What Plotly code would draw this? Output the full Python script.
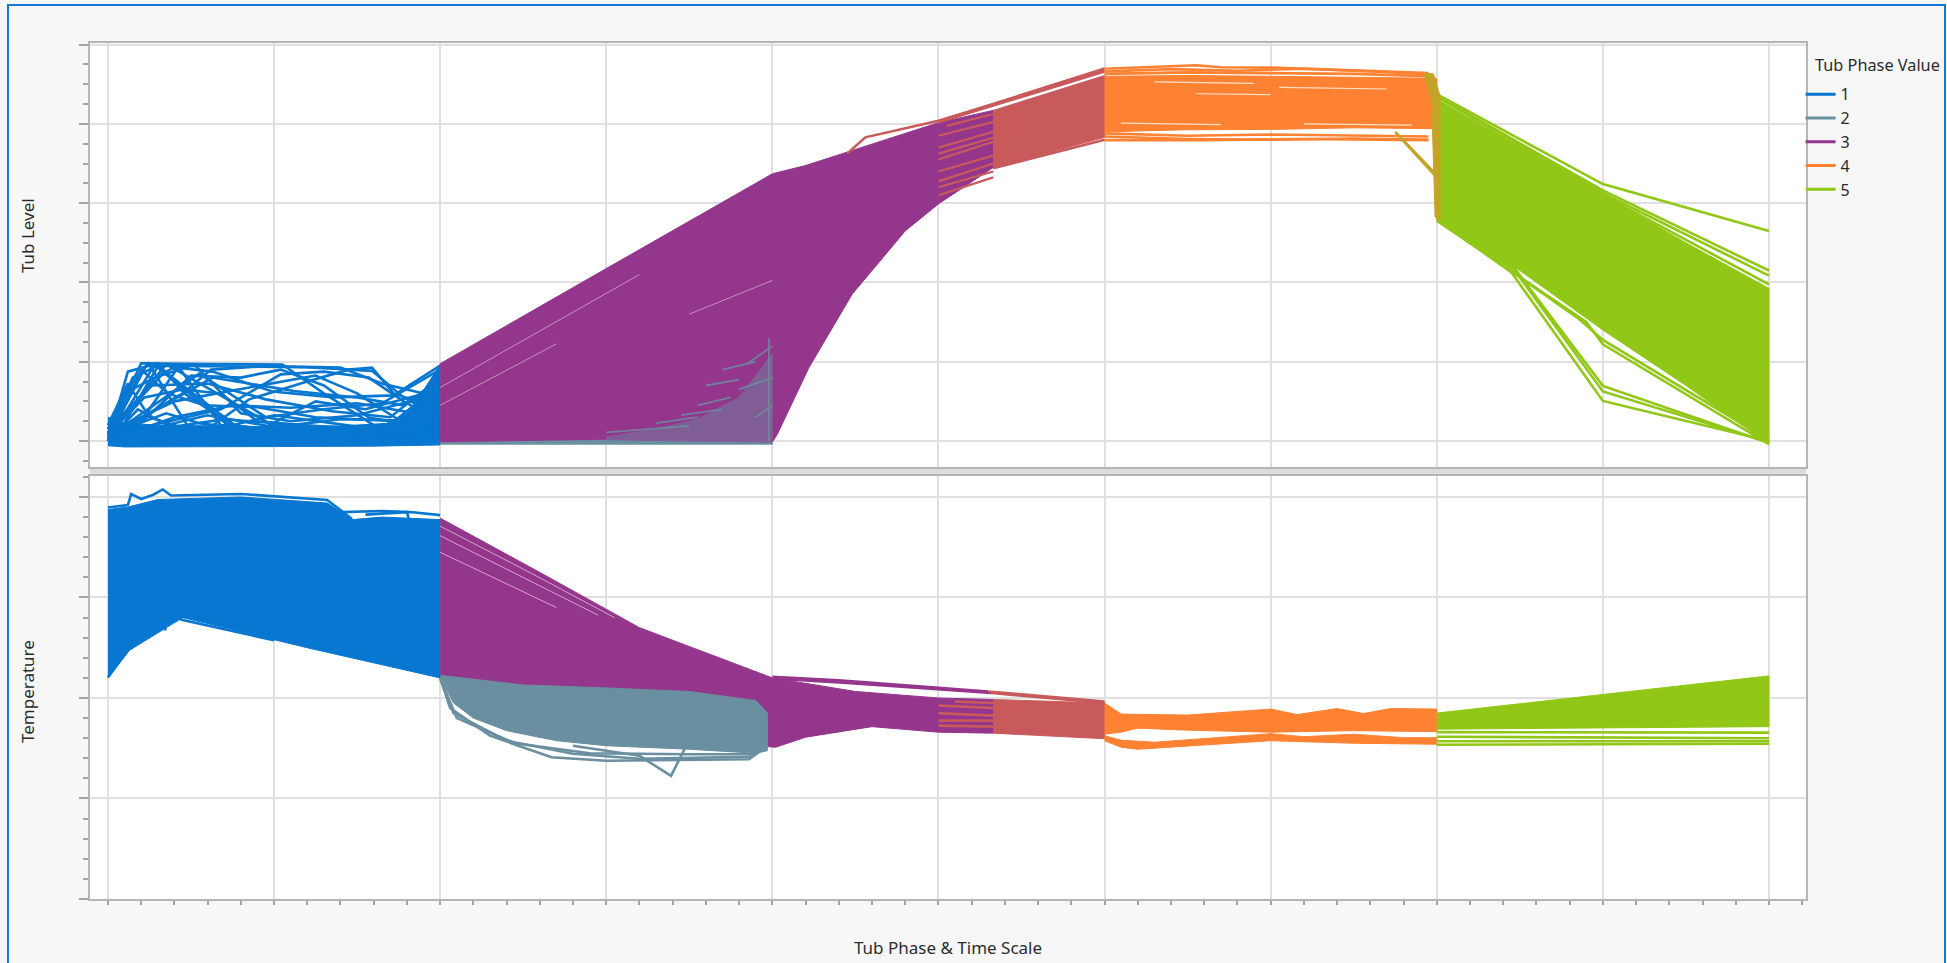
import plotly.graph_objects as go
from plotly.subplots import make_subplots

# ---------------------------------------------------------------------------
# Phase legend
# ---------------------------------------------------------------------------
LEGEND_TITLE = "Tub Phase Value"
PHASE_NAMES = ["1", "2", "3", "4", "5"]
PHASE_COLORS = ["#0777d1", "#6a8fa0", "#94378c", "#fe8232", "#91c716"]
COLOR_3_TO_4 = "#c85a5c"   # cycles overlapping between phase 3 and phase 4
COLOR_4_TO_5 = "#c4a426"   # hand-over from phase 4 to phase 5

X_RANGE = [-0.108, 10.223]
LEVEL_RANGE = [-6.56, 100.4]
TEMP_RANGE = [0, 84.18]

# ---------------------------------------------------------------------------
# Tub level – dense envelopes (outline x / y) and individual cycles
# ---------------------------------------------------------------------------
LEVEL_P1_BAND_X = [0.00, 0.03, 0.10, 0.30, 0.60, 1.00, 1.40, 1.70, 1.85, 2.00, 2.00, 1.60, 1.00, 0.50, 0.10, 0.00]
LEVEL_P1_BAND_Y = [6.0, 5.5, 4.5, 4.0, 3.8, 3.6, 3.8, 4.5, 9.5, 19.3, -1.0, -1.3, -1.4, -1.4, -1.5, -1.2]

LEVEL_P1_LINES = [
    [(0.00, 1.5), (0.20, 19.6), (0.60, 19.4), (1.05, 19.3), (1.30, 12.0), (1.60, 4.0), (2.00, 2.0)],
    [(0.00, 0.5), (0.24, 19.8), (0.50, 2.5), (1.00, 1.5), (2.00, 1.0)],
    [(0.00, 2.0), (0.15, 16.0), (0.30, 19.0), (0.70, 18.8), (1.20, 18.6), (1.59, 17.7), (1.78, 11.0), (2.00, 6.0)],
    [(0.00, 0.0), (0.28, 19.2), (0.55, 10.0), (0.75, 3.0), (1.40, 2.0), (2.00, 0.5)],
    [(0.00, 3.0), (0.10, 12.0), (0.42, 19.0), (0.68, 4.0), (1.20, 2.5), (2.00, 3.0)],
    [(0.00, 1.0), (0.35, 19.4), (0.99, 4.0), (1.36, 2.0), (2.00, 1.5)],
    [(0.00, 0.5), (0.16, 2.5), (0.42, 18.5), (0.63, 17.5), (0.99, 12.5), (1.36, 11.0), (1.72, 11.5), (2.00, 19.0)],
    [(0.00, 2.5), (0.05, 1.5), (0.29, 8.0), (0.63, 16.0), (1.12, 12.6), (1.51, 10.9), (1.78, 9.0), (2.00, 14.0)],
    [(0.00, 0.0), (0.21, 5.0), (0.50, 16.5), (0.80, 16.0), (1.04, 18.0), (1.30, 14.0), (1.57, 5.9), (2.00, 3.0)],
    [(0.00, 1.0), (0.29, 4.2), (0.68, 8.0), (1.04, 16.8), (1.30, 17.5), (1.57, 16.0), (1.78, 10.0), (2.00, 5.0)],
    [(0.00, 4.0), (0.12, 14.5), (0.25, 6.0), (0.55, 2.0), (1.00, 1.0), (2.00, 0.0)],
    [(0.00, 0.0), (0.40, 6.0), (0.75, 9.0), (1.10, 8.4), (1.50, 9.5), (1.85, 7.0), (2.00, 17.0)],
    [(0.00, 1.5), (0.22, 11.0), (0.45, 13.0), (0.68, 12.0), (0.90, 5.0), (1.30, 3.5), (2.00, 2.0)],
    [(0.00, 0.5), (0.55, 1.5), (0.85, 10.5), (1.20, 15.0), (1.45, 18.0), (1.59, 18.5), (1.72, 12.0), (2.00, 8.0)],
    [(0.00, 2.0), (0.32, 16.5), (0.52, 19.3), (0.80, 7.0), (1.10, 5.0), (1.50, 6.5), (2.00, 12.0)],
    [(0.00, 0.0), (0.18, 8.0), (0.38, 3.5), (0.70, 5.5), (1.15, 4.0), (1.60, 3.0), (2.00, 9.5)],
    [(0.00, 3.0), (0.26, 14.0), (0.60, 14.5), (0.95, 10.5), (1.35, 7.5), (1.70, 6.0), (2.00, 16.0)],
    [(0.00, 1.0), (0.45, 12.0), (0.62, 18.0), (0.95, 18.9), (1.40, 18.5), (1.65, 14.5), (2.00, 11.0)],
    [(0.00, 0.5), (0.20, 18.0), (0.36, 12.0), (0.58, 9.0), (0.90, 8.5), (1.25, 6.0), (1.75, 5.0), (2.00, 7.0)],
    [(0.00, 2.0), (0.65, 3.0), (1.00, 6.5), (1.36, 4.5), (1.70, 2.5), (2.00, 4.0)],
    [(0.00, 0.0), (0.12, 17.5), (0.30, 19.6), (0.46, 12.0), (0.75, 4.0), (1.10, 2.0), (2.00, 1.0)],
    [(0.05, 1.0), (0.30, 18.8), (0.80, 2.8), (1.30, 1.2), (2.00, 1.5)],
    [(0.00, 1.0), (0.55, 17.0), (0.95, 6.0), (1.30, 8.0), (1.65, 9.5), (2.00, 18.0)],
    [(0.00, 2.0), (0.40, 10.0), (0.85, 13.5), (1.25, 16.5), (1.50, 12.0), (1.80, 4.0), (2.00, 2.5)],
    [(0.00, 0.5), (0.25, 3.0), (0.60, 6.5), (1.00, 3.5), (1.40, 5.5), (2.00, 5.0)],
    [(0.00, 1.5), (0.35, 7.0), (0.55, 4.5), (0.90, 2.5), (1.25, 10.0), (1.55, 8.0), (2.00, 13.0)],
]

LEVEL_P3_BAND_X = [2.00, 2.00, 3.00, 4.00, 4.20, 4.50, 5.00, 5.33, 5.33, 5.00, 4.80, 4.48, 4.22, 4.03, 4.00, 3.00]
LEVEL_P3_BAND_Y = [-0.3, 19.5, 43.5, 67.4, 69.5, 73.5, 80.3, 83.4, 69.0, 59.8, 53.0, 37.0, 18.5, 1.7, -0.3, 0.3]
# thin gaps between neighbouring phase-3 cycles
LEVEL_P3_GAPS = [
    [(2.00, 13.5), (3.20, 42.0)],
    [(2.00, 9.0), (2.70, 24.5)],
    [(3.50, 32.0), (4.00, 40.5)],
]

LEVEL_P2_STRIP_X = [2.00, 4.00, 4.00, 2.00]
LEVEL_P2_STRIP_Y = [0.5, 0.5, -0.8, -0.8]
LEVEL_P2_BAND_X = [3.00, 3.30, 3.55, 3.80, 4.00, 4.00, 3.00]
LEVEL_P2_BAND_Y = [1.0, 3.0, 5.5, 11.0, 22.0, -0.5, -0.5]
LEVEL_P2_LINES = [
    [(3.00, 2.2), (3.50, 3.8)],
    [(3.30, 4.5), (3.55, 6.0)],
    [(3.45, 6.5), (3.70, 8.0)],
    [(3.55, 9.0), (3.75, 11.0)],
    [(3.60, 14.0), (3.80, 15.5)],
    [(3.70, 18.0), (3.90, 20.0)],
    [(3.80, 13.0), (4.00, 16.0)],
    [(3.85, 19.5), (4.00, 24.0)],
    [(3.90, 6.0), (4.00, 9.0)],
    [(3.98, 0.0), (3.98, 26.0)],
]

LEVEL_P34_STRIPES = [
    [(5.00, 62.0), (5.33, 66.5)],
    [(5.00, 64.0), (5.33, 68.0)],
    [(5.00, 65.5), (5.33, 70.0)],
    [(5.00, 68.0), (5.33, 72.0)],
    [(5.00, 71.0), (5.33, 75.5)],
    [(5.00, 72.5), (5.33, 76.5)],
    [(5.00, 74.0), (5.33, 78.0)],
    [(5.00, 77.0), (5.33, 80.5)],
    [(5.05, 79.5), (5.33, 82.5)],
]
LEVEL_P34_BAND_X = [5.33, 6.00, 6.00, 5.33]
LEVEL_P34_BAND_Y = [83.4, 92.2, 76.6, 69.0]
LEVEL_P34_LINES = [
    [(5.00, 80.6), (6.00, 94.0)],
    [(5.00, 80.4), (6.00, 93.2)],
    [(4.45, 72.5), (4.56, 76.6), (5.00, 80.8), (6.00, 93.5)],
    [(5.33, 69.0), (6.00, 77.2)],
    [(5.33, 68.8), (6.00, 76.0)],
]

LEVEL_P4_BAND_X = [6.00, 6.50, 7.00, 7.50, 8.00, 8.00, 7.50, 7.00, 6.50, 6.00]
LEVEL_P4_BAND_Y = [92.0, 92.2, 92.0, 91.8, 91.5, 78.8, 79.0, 78.6, 78.5, 78.0]
LEVEL_P4_LINES = [
    [(6.00, 93.9), (6.30, 94.3), (6.55, 94.8), (6.70, 94.3), (7.00, 94.2), (7.50, 93.5), (7.95, 92.8)],
    [(6.00, 93.2), (6.40, 93.8), (6.80, 93.4), (7.20, 93.9), (7.60, 93.2), (7.95, 92.5)],
    [(6.00, 92.6), (6.50, 93.0), (7.00, 92.8), (7.50, 92.6), (7.95, 92.0)],
    [(6.00, 77.6), (6.50, 77.0), (7.00, 77.3), (7.50, 77.0), (7.95, 76.8)],
    [(6.00, 76.8), (6.50, 76.2), (7.00, 76.0), (7.50, 76.3), (7.95, 76.0)],
    [(6.00, 75.9), (6.60, 75.9), (7.20, 76.2), (7.95, 75.9)],
]
# thin gaps between neighbouring phase-4 cycles
LEVEL_P4_GAPS = [
    [(6.30, 90.6), (6.90, 90.2)],
    [(7.05, 89.2), (7.70, 88.8)],
    [(6.55, 87.6), (7.00, 87.4)],
    [(6.10, 80.2), (6.70, 79.8)],
    [(7.20, 80.0), (7.85, 79.7)],
]

LEVEL_P45_BAND_X = [7.92, 7.98, 8.02, 8.02, 7.99, 7.97]
LEVEL_P45_BAND_Y = [92.8, 92.6, 87.0, 55.5, 56.5, 85.0]
LEVEL_P45_LINES = [
    [(7.76, 77.5), (8.00, 66.5)],
    [(7.75, 78.0), (7.99, 67.5)],
]

LEVEL_P5_BAND_X = [8.00, 8.50, 9.00, 9.50, 10.00, 10.00, 9.50, 9.00, 8.45, 8.00]
LEVEL_P5_BAND_Y = [86.0, 74.0, 62.0, 50.0, 38.5, -0.8, 14.0, 28.0, 44.5, 56.0]
LEVEL_P5_LINES = [
    [(8.00, 87.5), (9.00, 64.8), (10.00, 53.0)],
    [(8.00, 87.0), (9.00, 63.2), (10.00, 43.0)],
    [(8.00, 86.8), (9.00, 62.5), (10.00, 41.7)],
    [(8.00, 86.0), (9.00, 62.0), (10.00, 39.5)],
    [(8.00, 57.0), (8.47, 43.5), (9.00, 13.9), (10.00, -0.5)],
    [(8.00, 56.5), (8.47, 43.0), (9.00, 12.5), (10.00, -0.3)],
    [(8.00, 56.0), (8.45, 42.5), (9.00, 10.1), (10.00, 0.0)],
    [(8.00, 55.6), (8.90, 30.0), (9.00, 24.4), (10.00, -0.8)],
    [(8.00, 56.0), (8.85, 31.0), (9.00, 25.5), (10.00, 0.2)],
]

# ---------------------------------------------------------------------------
# Temperature – dense envelopes and individual cycles
# ---------------------------------------------------------------------------
TEMP_P1_BAND_X = [0.00, 0.12, 0.30, 0.80, 1.32, 1.47, 1.65, 1.82, 2.00, 2.00, 1.20, 0.45, 0.13, 0.00]
TEMP_P1_BAND_Y = [77.5, 78.0, 79.5, 80.0, 78.8, 75.5, 76.0, 75.8, 75.5, 44.0, 50.0, 56.0, 49.5, 44.1]
TEMP_P1_LINES = [
    [(0.00, 77.9), (0.12, 78.4), (0.14, 80.6), (0.20, 79.6), (0.27, 80.4), (0.33, 81.5), (0.38, 80.3),
     (0.80, 80.6), (1.32, 79.4), (1.47, 75.6)],
    [(1.40, 77.0), (1.65, 77.2), (1.82, 77.0), (2.00, 76.4)],
    [(1.55, 76.5), (1.80, 77.0), (1.86, 70.0), (2.00, 69.5)],
    [(0.00, 44.1), (0.12, 49.5), (0.30, 55.0), (0.50, 56.5), (2.00, 44.5)],
    [(0.02, 47.0), (0.15, 53.0), (0.28, 57.5), (0.45, 55.5), (1.00, 51.5)],
    [(0.05, 50.0), (0.20, 54.5), (0.30, 56.0), (0.35, 53.5)],
]

TEMP_P3_BAND_X = [2.00, 2.60, 3.20, 4.00, 4.50, 5.00, 5.33, 5.33, 5.00, 4.60, 4.20, 4.02, 3.90, 3.00, 2.00]
TEMP_P3_BAND_Y = [75.8, 65.0, 54.0, 44.0, 41.3, 40.0, 39.7, 33.0, 33.2, 34.3, 32.2, 30.2, 30.5, 40.0, 44.0]
TEMP_P3_LINES = [
    [(4.00, 44.2), (4.40, 43.5), (5.30, 41.3)],
    [(4.00, 43.9), (4.45, 43.0), (5.32, 41.0)],
]
TEMP_P3_GAPS = [
    [(2.00, 74.2), (2.55, 64.8), (3.05, 56.0)],
    [(2.00, 72.3), (2.50, 64.0), (2.95, 56.5)],
    [(2.00, 69.0), (2.70, 58.0)],
]

TEMP_P2_BAND_X = [2.00, 2.50, 3.00, 3.50, 3.90, 3.97, 3.97, 3.90, 3.50, 3.00, 2.70, 2.40, 2.20, 2.08, 2.02]
TEMP_P2_BAND_Y = [44.5, 42.6, 42.0, 41.3, 39.5, 37.0, 29.5, 29.0, 29.8, 30.5, 31.5, 33.5, 36.0, 39.0, 43.0]
TEMP_P2_LINES = [
    [(2.00, 44.0), (2.08, 37.0), (2.40, 31.5), (2.80, 28.9), (3.20, 27.9), (3.86, 28.3), (3.96, 32.0)],
    [(2.00, 44.0), (2.06, 38.0), (2.30, 32.5), (2.67, 28.2), (3.00, 27.5), (3.86, 27.8), (3.95, 30.0)],
    [(2.00, 44.0), (2.10, 36.0), (2.45, 31.0), (2.90, 29.0), (3.50, 28.8), (3.90, 28.8)],
    [(2.80, 30.5), (3.20, 28.5), (3.39, 24.5), (3.52, 33.0), (3.70, 35.0)],
]

TEMP_P34_STRIPES = [
    [(5.10, 39.3), (5.33, 39.0)],
    [(5.00, 38.5), (5.33, 38.0)],
    [(5.00, 37.0), (5.33, 36.5)],
    [(5.00, 35.5), (5.33, 35.5)],
    [(5.00, 34.5), (5.33, 34.3)],
]
TEMP_P34_BAND_X = [5.33, 6.00, 6.00, 5.33]
TEMP_P34_BAND_Y = [39.7, 39.0, 31.9, 33.0]
TEMP_P34_LINES = [
    [(5.30, 41.3), (6.00, 39.3)],
    [(5.32, 41.0), (6.00, 39.0)],
]

TEMP_P4_CORE_X = [6.00, 6.10, 6.50, 6.80, 7.00, 7.16, 7.40, 7.56, 7.72, 8.00, 8.00, 7.50, 7.00, 6.50, 6.20, 6.10, 6.00]
TEMP_P4_CORE_Y = [39.0, 36.8, 36.6, 37.4, 37.8, 36.7, 37.9, 36.9, 37.9, 37.8, 33.3, 33.5, 33.2, 33.6, 34.0, 33.2, 32.8]
TEMP_P4_LOW_X = [6.00, 6.10, 6.30, 6.60, 7.00, 7.20, 7.50, 7.80, 8.00, 8.00, 7.50, 7.00, 6.50, 6.20, 6.10, 6.00]
TEMP_P4_LOW_Y = [32.5, 31.6, 31.2, 31.9, 32.9, 32.3, 32.8, 32.1, 32.1, 30.8, 31.0, 31.5, 30.5, 29.8, 30.2, 31.5]

TEMP_P5_BAND_X = [8.00, 10.00, 10.00, 8.00]
TEMP_P5_BAND_Y = [37.0, 44.4, 34.3, 33.8]
TEMP_P5_LINES = [
    [(8.00, 33.2), (10.00, 33.1)],
    [(8.00, 32.3), (10.00, 32.0)],
    [(8.00, 31.4), (10.00, 31.4)],
    [(8.00, 30.7), (10.00, 30.9)],
]

# ---------------------------------------------------------------------------
# Styling
# ---------------------------------------------------------------------------
FONT = "Noto Sans"
TEXT = "#2b2b2b"
GRID = "#e0e0e0"
FRAME = "#b5b5b5"
TICK = "#a3a3a3"
PAGE_BG = "#f7f7f7"
BORDER = "#1379d4"
LINE_W = 2.6


def polyline_xy(lines):
    xs, ys = [], []
    for line in lines:
        for x, y in line:
            xs.append(x)
            ys.append(y)
        xs.append(None)
        ys.append(None)
    return xs, ys


def add_band(fig, xs, ys, color, row, opacity=1.0):
    fig.add_trace(
        go.Scatter(x=xs, y=ys, mode="lines", fill="toself", fillcolor=color,
                   line=dict(color=color, width=1), opacity=opacity,
                   hoverinfo="skip", showlegend=False),
        row=row, col=1)


def add_lines(fig, lines, color, row, width=LINE_W, opacity=1.0):
    xs, ys = polyline_xy(lines)
    fig.add_trace(
        go.Scatter(x=xs, y=ys, mode="lines", line=dict(color=color, width=width),
                   opacity=opacity, connectgaps=False, hoverinfo="skip", showlegend=False),
        row=row, col=1)


fig = make_subplots(rows=2, cols=1, shared_xaxes=True, vertical_spacing=0.01)

# Legend entries
for name, color in zip(PHASE_NAMES, PHASE_COLORS):
    fig.add_trace(go.Scatter(x=[None], y=[None], mode="lines", name=name,
                             line=dict(color=color, width=3)), row=1, col=1)

BLUE, GRAY, PURPLE, ORANGE, GREEN = PHASE_COLORS

# --- Tub level ---
add_band(fig, LEVEL_P1_BAND_X, LEVEL_P1_BAND_Y, BLUE, 1)
add_lines(fig, LEVEL_P1_LINES, BLUE, 1)
add_band(fig, LEVEL_P2_STRIP_X, LEVEL_P2_STRIP_Y, GRAY, 1)
add_band(fig, LEVEL_P3_BAND_X, LEVEL_P3_BAND_Y, PURPLE, 1)
add_lines(fig, LEVEL_P3_GAPS, "white", 1, width=1.0, opacity=0.45)
add_band(fig, LEVEL_P2_BAND_X, LEVEL_P2_BAND_Y, GRAY, 1, opacity=0.45)
add_lines(fig, LEVEL_P2_LINES, GRAY, 1, width=1.8, opacity=0.85)
add_lines(fig, LEVEL_P34_STRIPES, COLOR_3_TO_4, 1, width=2.2)
add_band(fig, LEVEL_P34_BAND_X, LEVEL_P34_BAND_Y, COLOR_3_TO_4, 1)
add_lines(fig, LEVEL_P34_LINES, COLOR_3_TO_4, 1)
add_band(fig, LEVEL_P4_BAND_X, LEVEL_P4_BAND_Y, ORANGE, 1)
add_lines(fig, LEVEL_P4_GAPS, "white", 1, width=1.2, opacity=0.75)
add_lines(fig, LEVEL_P4_LINES, ORANGE, 1)
add_band(fig, LEVEL_P5_BAND_X, LEVEL_P5_BAND_Y, GREEN, 1)
add_lines(fig, LEVEL_P5_LINES, GREEN, 1)
add_band(fig, LEVEL_P45_BAND_X, LEVEL_P45_BAND_Y, COLOR_4_TO_5, 1)
add_lines(fig, LEVEL_P45_LINES, COLOR_4_TO_5, 1)

# --- Temperature ---
add_band(fig, TEMP_P1_BAND_X, TEMP_P1_BAND_Y, BLUE, 2)
add_lines(fig, TEMP_P1_LINES, BLUE, 2)
add_band(fig, TEMP_P3_BAND_X, TEMP_P3_BAND_Y, PURPLE, 2)
add_lines(fig, TEMP_P3_GAPS, "white", 2, width=1.0, opacity=0.55)
add_lines(fig, TEMP_P3_LINES, PURPLE, 2)
add_band(fig, TEMP_P2_BAND_X, TEMP_P2_BAND_Y, GRAY, 2)
add_lines(fig, TEMP_P2_LINES, GRAY, 2)
add_lines(fig, TEMP_P34_STRIPES, COLOR_3_TO_4, 2)
add_band(fig, TEMP_P34_BAND_X, TEMP_P34_BAND_Y, COLOR_3_TO_4, 2)
add_lines(fig, TEMP_P34_LINES, COLOR_3_TO_4, 2)
add_band(fig, TEMP_P4_CORE_X, TEMP_P4_CORE_Y, ORANGE, 2)
add_band(fig, TEMP_P4_LOW_X, TEMP_P4_LOW_Y, ORANGE, 2)
add_band(fig, TEMP_P5_BAND_X, TEMP_P5_BAND_Y, GREEN, 2)
add_lines(fig, TEMP_P5_LINES, GREEN, 2)

# --- Axes ---
fig.update_xaxes(range=X_RANGE, tick0=0, dtick=1, showgrid=True, gridcolor=GRID, gridwidth=1.5,
                 zeroline=False, showline=True, linecolor=FRAME, linewidth=2, mirror=True,
                 showticklabels=False)
fig.update_xaxes(ticks="", row=1, col=1)
fig.update_xaxes(ticks="outside", ticklen=4, tickwidth=1.5, tickcolor=TICK,
                 minor=dict(tick0=0, dtick=0.2, ticks="outside", ticklen=4, tickwidth=1.5,
                            tickcolor=TICK, showgrid=False),
                 row=2, col=1)

axis_y = dict(tick0=0, dtick=20, ticks="outside", ticklen=9, tickwidth=1.5, tickcolor=TICK,
              showgrid=True, gridcolor=GRID, gridwidth=1.5, zeroline=False,
              showline=True, linecolor=FRAME, linewidth=2, mirror=True, showticklabels=False)
fig.update_yaxes(range=LEVEL_RANGE,
                 minor=dict(tick0=0, dtick=5, ticks="outside", ticklen=5, tickwidth=1.5,
                            tickcolor=TICK, showgrid=False),
                 row=1, col=1, **axis_y)
fig.update_yaxes(range=TEMP_RANGE,
                 minor=dict(tick0=0, dtick=4, ticks="outside", ticklen=5, tickwidth=1.5,
                            tickcolor=TICK, showgrid=False),
                 row=2, col=1, **axis_y)

fig.update_layout(
    width=1947, height=963,
    margin=dict(l=90, r=141, t=43, b=64),
    paper_bgcolor=PAGE_BG, plot_bgcolor="white",
    font=dict(family=FONT, size=17, color=TEXT),
    yaxis=dict(domain=[0.50467, 1.0]),
    yaxis2=dict(domain=[0.0, 0.49416]),
    showlegend=True,
    # compact legend that fits inside the right margin; its title is an annotation
    legend=dict(x=0.99685, y=0.960, xanchor="left", yanchor="top",
                bgcolor="rgba(0,0,0,0)", borderwidth=0,
                font=dict(family=FONT, size=16, color=TEXT),
                tracegroupgap=0),
    shapes=[
        # splitter between the two panels
        dict(type="rect", xref="paper", yref="paper", x0=0, x1=1, y0=0.49416, y1=0.50467,
             fillcolor="#dcdcdc", line=dict(width=0), layer="below"),
        # outer window border
        dict(type="rect", xref="paper", yref="paper", x0=-0.0478, x1=1.0810, y0=-0.12, y1=1.0444,
             fillcolor="rgba(0,0,0,0)", line=dict(color=BORDER, width=2), layer="above"),
    ],
    annotations=[
        dict(text=LEGEND_TITLE, xref="paper", yref="paper", x=1.0041, y=0.9743,
             showarrow=False, xanchor="left", yanchor="middle",
             font=dict(family=FONT, size=16.3, color=TEXT)),
        dict(text="Tub Level", xref="paper", yref="paper", x=-0.0367, y=0.7745,
             textangle=-90, showarrow=False, xanchor="center", yanchor="middle",
             font=dict(family=FONT, size=17, color=TEXT)),
        dict(text="Temperature", xref="paper", yref="paper", x=-0.0367, y=0.2418,
             textangle=-90, showarrow=False, xanchor="center", yanchor="middle",
             font=dict(family=FONT, size=17, color=TEXT)),
        dict(text="Tub Phase &amp; Time Scale", xref="paper", yref="paper", x=0.5, y=-0.0561,
             showarrow=False, xanchor="center", yanchor="middle",
             font=dict(family=FONT, size=17, color=TEXT)),
    ],
)

fig.write_html("out.html", config={"displayModeBar": False})
